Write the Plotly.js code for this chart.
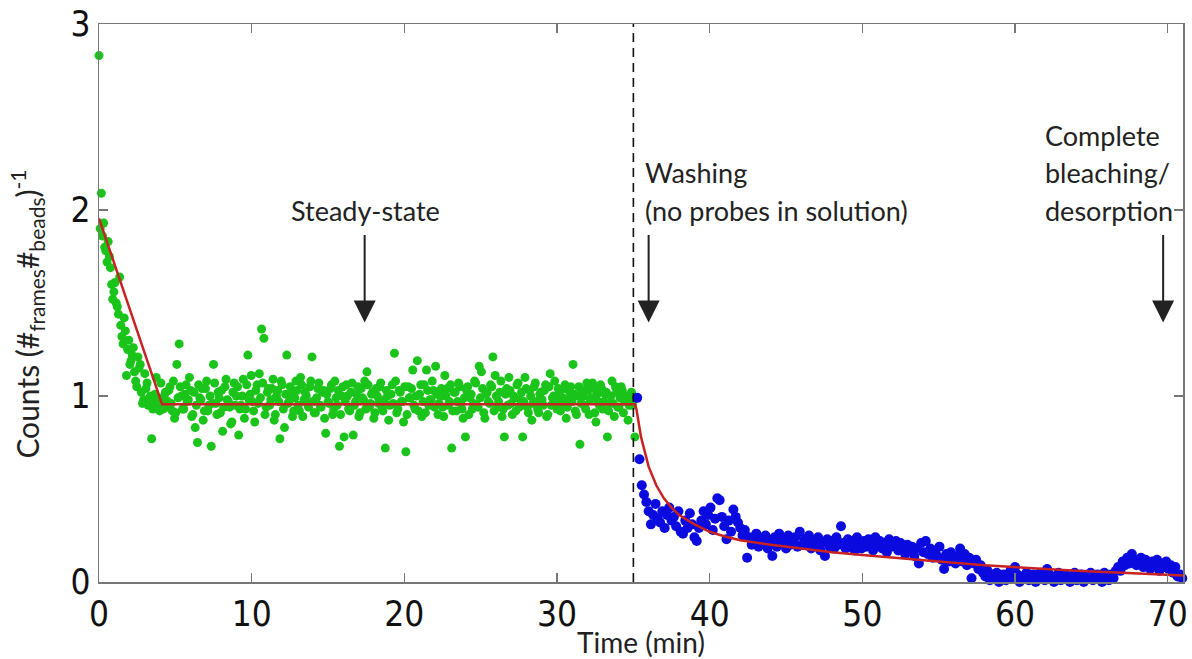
<!DOCTYPE html>
<html>
<head>
<meta charset="utf-8">
<script src="https://cdn.plot.ly/plotly-3.0.1.min.js"></script>
<style>html,body{margin:0;padding:0;background:#fff;}#chart{width:1192px;height:659px;}</style>
</head>
<body>
<div id="chart"></div>
<script>
// ---- Data ----
// Green (probes in solution), first interleaved set: start and step in minutes
const greenStart = 0;
const greenStep = 0.15;
const greenCounts = [
  2.83,2.09,1.93,1.78,1.83,1.69,1.52,1.61,1.48,1.64,
  1.32,1.42,1.11,1.30,1.19,1.26,1.08,1.21,1.17,0.96,
  1.12,1.07,0.99,0.77,0.97,1.10,0.95,1.07,0.93,1.02,
  0.97,1.05,0.92,0.88,1.17,1.28,1.00,0.93,1.06,0.98,
  1.03,0.90,0.83,0.75,0.99,1.04,0.92,1.08,0.95,0.73,
  1.17,0.96,1.02,0.91,0.81,1.05,0.98,0.94,0.86,1.07,
  1.00,0.79,0.95,1.09,0.93,1.22,1.01,0.97,0.86,1.06,
  1.12,1.36,1.31,0.94,1.04,0.98,1.09,0.90,1.03,0.77,
  1.06,0.83,1.22,0.97,1.01,0.92,1.08,0.95,1.10,0.89,
  1.02,0.96,1.05,1.21,0.91,0.99,1.07,0.94,1.03,0.80,
  0.97,1.04,0.90,1.08,0.95,0.73,1.00,0.78,1.06,0.93,
  1.02,0.79,0.97,1.05,0.91,0.99,1.08,1.13,0.94,1.01,
  0.88,1.04,0.96,1.07,0.92,0.72,1.00,0.95,1.06,1.23,
  0.91,1.03,0.97,0.86,0.70,1.05,0.99,1.14,0.93,1.19,
  1.01,0.89,1.06,1.14,0.95,0.98,1.03,1.16,0.90,1.00,
  0.94,1.11,1.04,0.97,0.72,1.02,0.92,1.07,0.96,0.88,
  0.78,1.05,0.99,0.93,1.08,0.95,1.16,1.13,0.91,1.01,
  0.97,1.06,1.21,1.11,0.94,1.02,0.89,0.78,1.04,1.10,
  0.96,1.00,0.92,1.07,0.98,0.78,1.10,0.94,1.03,0.87,
  1.05,0.97,0.91,1.02,0.95,1.06,0.90,1.12,0.99,1.08,
  0.93,1.01,0.96,1.04,0.88,0.98,1.05,1.17,0.92,1.00,
  0.74,1.03,0.95,1.07,0.90,0.99,1.04,0.86,0.97,1.06,
  0.93,1.01,0.78,0.96,1.08,0.89,1.02,0.94,1.05,0.91,
  0.98,0.87,1.00,0.95,0.78
];
// Green, second interleaved set (frames between the first set)
const greenStart2 = 0.075;
const greenCounts2 = [
  1.90,1.86,1.80,1.72,1.75,1.60,1.56,1.50,1.44,1.38,
  1.28,1.35,1.25,1.17,1.22,1.13,1.05,1.15,1.02,0.98,
  1.04,0.95,1.00,0.93,1.01,0.98,0.92,0.96,1.00,0.94,
  1.03,0.96,1.08,0.91,0.99,1.05,0.93,1.01,0.97,1.10,
  0.89,1.02,0.95,1.06,0.98,0.87,1.04,0.92,1.00,0.96,
  1.07,0.90,0.99,1.03,0.94,1.09,0.97,0.85,1.02,0.95,
  1.05,0.93,1.00,0.88,1.06,0.98,1.11,0.92,1.03,0.96,
  0.99,1.07,0.90,1.02,0.95,1.04,0.87,1.00,0.97,1.08,
  0.93,1.01,0.96,1.05,0.89,0.99,1.03,0.92,1.06,0.98,
  1.00,0.94,1.08,0.97,0.91,1.04,0.95,1.02,0.88,1.01,
  0.96,1.06,0.93,0.99,1.03,0.90,1.05,0.97,1.00,0.92,
  1.07,0.95,1.01,0.89,1.04,0.98,0.93,1.06,0.96,1.02,
  0.91,1.00,1.05,0.94,0.98,1.03,0.87,1.01,0.96,1.08,
  0.93,1.02,0.97,1.05,0.90,0.99,1.04,0.95,1.00,0.92,
  1.06,0.97,0.91,1.03,0.98,1.08,0.94,1.01,0.96,1.04,
  0.89,1.00,0.95,1.06,0.92,1.02,0.97,1.05,0.93,0.99,
  1.03,0.90,1.01,0.96,1.07,0.94,0.99,1.04,0.88,1.02,
  0.96,1.05,0.92,1.00,0.97,1.08,0.93,1.01,0.95,1.03,
  0.90,0.99,1.06,0.94,1.02,0.97,1.04,0.91,1.00,0.96,
  1.07,0.93,1.01,0.98,1.03,0.89,1.05,0.95,1.00,0.97,
  1.04,0.92,0.99,1.06,0.94,1.02,0.97,1.01,0.90,1.05,
  0.96,1.00,0.93,1.03,0.98,1.07,0.91,1.01,0.95,1.04,
  0.97,1.02,0.92,1.00,0.96,1.05,0.94,0.99,1.03,0.97,
  1.00,0.95,1.02,0.98
];
// Blue (washing): sampling start and step in minutes
const blueStart = 35.25;
const blueStep = 0.15;
const blueCounts = [
  0.99,0.66,0.52,0.47,0.43,0.38,0.31,0.36,0.42,0.34,
  0.32,0.38,0.29,0.36,0.40,0.33,0.35,0.30,0.38,0.27,
  0.26,0.33,0.29,0.37,0.31,0.24,0.22,0.29,0.33,0.38,
  0.31,0.36,0.40,0.28,0.34,0.45,0.44,0.35,0.30,0.23,
  0.33,0.27,0.39,0.35,0.32,0.29,0.25,0.28,0.13,0.24,
  0.20,0.22,0.26,0.19,0.23,0.21,0.25,0.18,0.22,0.14,
  0.24,0.19,0.26,0.21,0.23,0.18,0.25,0.20,0.22,0.24,
  0.19,0.27,0.20,0.23,0.21,0.25,0.18,0.22,0.20,0.24,
  0.17,0.21,0.14,0.23,0.19,0.22,0.18,0.24,0.20,0.30,
  0.21,0.18,0.23,0.19,0.22,0.17,0.24,0.20,0.18,0.22,
  0.19,0.23,0.21,0.17,0.24,0.20,0.22,0.18,0.21,0.16,
  0.23,0.19,0.20,0.22,0.17,0.21,0.18,0.15,0.20,0.17,
  0.19,0.14,0.18,0.10,0.21,0.16,0.22,0.15,0.18,0.13,
  0.17,0.14,0.19,0.12,0.07,0.15,0.11,0.16,0.13,0.10,
  0.14,0.18,0.11,0.15,0.09,0.13,0.02,0.10,0.12,0.07,
  0.09,0.05,0.03,0.06,0.01,0.04,0.02,0.05,0.00,0.03,
  0.04,0.01,0.03,0.06,0.02,0.08,0.04,0.00,0.03,0.02,
  0.05,0.01,0.03,0.04,0.00,0.02,0.05,0.03,0.01,0.07,
  0.04,0.02,0.00,0.03,0.05,0.01,0.03,0.04,0.02,0.00,
  0.03,0.05,0.01,0.02,0.04,0.00,0.03,0.02,0.05,0.01,
  0.03,0.04,0.02,0.00,0.05,0.03,0.01,0.04,0.02,0.06,
  0.08,0.06,0.11,0.09,0.13,0.10,0.15,0.12,0.09,0.11,
  0.13,0.08,0.12,0.10,0.07,0.11,0.09,0.12,0.06,0.10,
  0.08,0.11,0.07,0.09,0.05,0.08,0.03,0.04,0.02
];
// Red fit curve
const fitTime = [0, 4.13, 35.1, 35.2, 35.5, 36, 36.5, 37, 37.5, 38, 39, 40, 41, 42, 44, 46, 48, 50, 52, 55, 58, 61, 64, 67, 70, 71];
const fitCounts = [1.955, 0.955, 0.955, 0.93, 0.78, 0.62, 0.52, 0.45, 0.40, 0.36, 0.31, 0.27, 0.245, 0.225, 0.20, 0.18, 0.16, 0.145, 0.13, 0.11, 0.09, 0.075, 0.06, 0.05, 0.04, 0.035];
// Washing starts
const washTime = 35;
// Axis ticks
const xTicks = [0, 10, 20, 30, 40, 50, 60, 70];
const yTicks = [0, 1, 2, 3];
// Event arrows: [time, count at arrow tip]
const steadyArrow = [17.4, 1.395];
const washArrow = [36.0, 1.395];
const bleachArrow = [69.7, 1.395];

const greenTime = greenCounts.map((_, i) => +(greenStart + i * greenStep).toFixed(3));
const greenTime2 = greenCounts2.map((_, i) => +(greenStart2 + i * greenStep).toFixed(3));
const blueTime = blueCounts.map((_, i) => +(blueStart + i * blueStep).toFixed(3));

const FONT = 'Lato, "Open Sans", sans-serif';
const NARROW = '"Liberation Sans Narrow", "DejaVu Sans Condensed", Lato, sans-serif';
const GREEN = '#1ac41a', BLUE = '#0b0be0';

const traces = [
  {x: greenTime2, y: greenCounts2, type: 'scatter', mode: 'markers', cliponaxis: false,
   marker: {color: GREEN, size: 9}, hoverinfo: 'skip'},
  {x: greenTime, y: greenCounts, type: 'scatter', mode: 'markers', cliponaxis: false,
   marker: {color: GREEN, size: 9}, hoverinfo: 'skip'},
  {x: blueTime, y: blueCounts, type: 'scatter', mode: 'markers', cliponaxis: false,
   marker: {color: BLUE, size: 10}, hoverinfo: 'skip'},
  {x: fitTime, y: fitCounts, type: 'scatter', mode: 'lines', cliponaxis: false,
   line: {color: '#c82222', width: 2.5}, hoverinfo: 'skip'}
];

function arrow(p) {
  return {x: p[0], y: p[1], xref: 'x', yref: 'y', text: '', showarrow: true,
    ax: 0, ay: -89, arrowhead: 2, arrowsize: 2.2, arrowwidth: 2, arrowcolor: '#222', standoff: 0, startstandoff: 0};
}
function label(x, y, text, anchor) {
  return {x: x, y: y, xref: 'x', yref: 'y', text: text, showarrow: false,
    xanchor: anchor, yanchor: 'middle', font: {family: FONT, size: 27, color: '#222'}};
}

const layout = {
  width: 1192, height: 659,
  margin: {l: 99, r: 9, t: 24, b: 77},
  paper_bgcolor: '#fff', plot_bgcolor: '#fff',
  showlegend: false,
  xaxis: {
    range: [0, 71], tickvals: xTicks, ticktext: xTicks.map(String),
    ticks: 'inside', ticklen: 9, tickwidth: 1.2, tickcolor: '#777',
    showline: true, linecolor: '#777', linewidth: 1.5, mirror: 'ticks',
    showgrid: false, zeroline: false,
    tickfont: {family: NARROW, size: 35, color: '#111'},
    title: {text: 'Time (min)', font: {family: FONT, size: 28, color: '#222'}, standoff: 4}
  },
  yaxis: {
    range: [0, 3], tickvals: yTicks, ticktext: yTicks.map(String),
    ticks: 'inside', ticklen: 9, tickwidth: 1.2, tickcolor: '#777',
    showline: true, linecolor: '#777', linewidth: 1.5, mirror: 'ticks',
    showgrid: false, zeroline: false,
    tickfont: {family: NARROW, size: 35, color: '#111'}
  },
  shapes: [
    {type: 'line', xref: 'x', yref: 'paper', x0: washTime, x1: washTime, y0: 0, y1: 1,
     line: {color: '#111', width: 1.6, dash: '9px,6px'}}
  ],
  annotations: [
    {xref: 'paper', yref: 'paper', x: -0.066, y: 0.48, text: 'Counts (#<sub>frames</sub>#<sub>beads</sub>)<sup>-1</sup>',
     textangle: -90, showarrow: false, xanchor: 'center', yanchor: 'middle',
     font: {family: FONT, size: 30, color: '#222'}},
    label(17.44, 2.0, 'Steady-state', 'center'),
    label(35.65, 2.2, 'Washing', 'left'),
    label(35.65, 2.0, '(no probes in solution)', 'left'),
    label(61.8, 2.4, 'Complete', 'left'),
    label(61.8, 2.2, 'bleaching/', 'left'),
    label(61.8, 2.0, 'desorption', 'left'),
    arrow(steadyArrow), arrow(washArrow), arrow(bleachArrow)
  ]
};

Plotly.newPlot('chart', traces, layout, {staticPlot: true, displayModeBar: false});
</script>
</body>
</html>
